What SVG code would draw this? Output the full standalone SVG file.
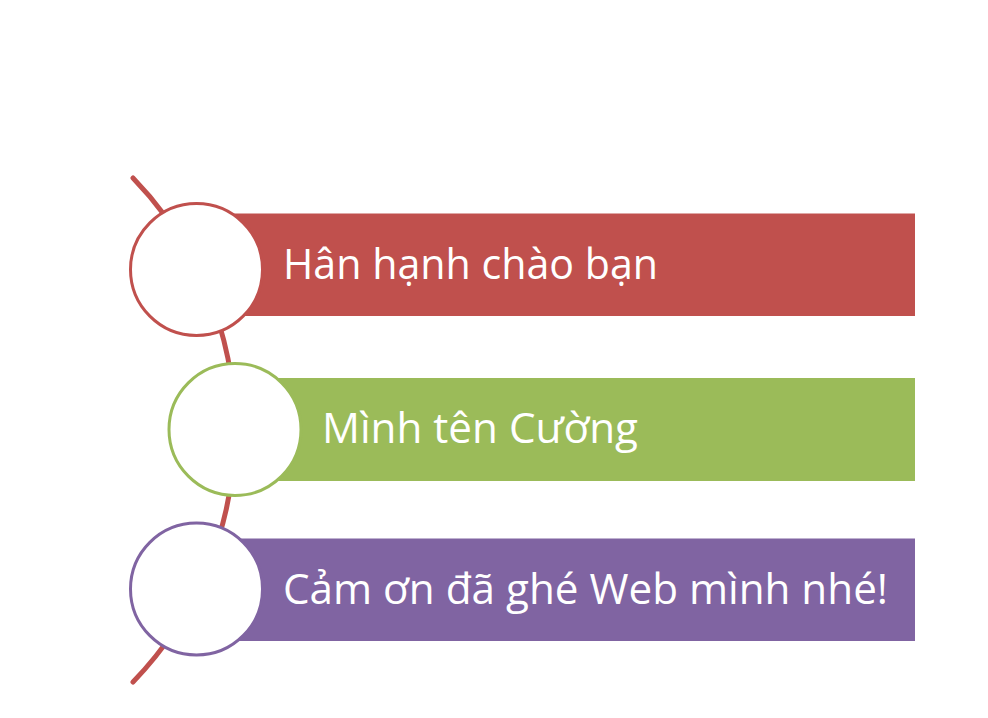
<svg xmlns="http://www.w3.org/2000/svg" width="988" height="718" viewBox="0 0 988 718">
<style>
.lbl{font-family:"Open Sans","Noto Sans","Liberation Sans",sans-serif;font-size:42px;fill:#FFFFFF}
.ring{fill:#FFFFFF;stroke-width:3}
</style>
<rect width="988" height="718" fill="#FFFFFF"/>
<g id="connectors">
<path d="M133,178 A362.3,362.3 0 0 1 133,682" fill="none" stroke="#C0504D" stroke-width="5" stroke-linecap="round"/>
</g>
<g id="node1">
<rect x="197" y="213.5" width="718" height="102.5" fill="#C0504D"/>
<circle class="ring" cx="196.5" cy="269.5" r="66" stroke="#C0504D"/>
<text class="lbl" x="283" y="279" textLength="375" lengthAdjust="spacingAndGlyphs">Hân hạnh chào bạn</text>
</g>
<g id="node2">
<rect x="235" y="378" width="680" height="103" fill="#9BBB59"/>
<circle class="ring" cx="235" cy="429.5" r="66" stroke="#9BBB59"/>
<text class="lbl" x="322" y="443" textLength="316" lengthAdjust="spacingAndGlyphs">Mình tên Cường</text>
</g>
<g id="node3">
<rect x="197" y="538.5" width="718" height="102.5" fill="#8064A2"/>
<circle class="ring" cx="196.5" cy="589" r="66" stroke="#8064A2"/>
<text class="lbl" x="283" y="604" textLength="605" lengthAdjust="spacingAndGlyphs">Cảm ơn đã ghé Web mình nhé!</text>
</g>
</svg>
